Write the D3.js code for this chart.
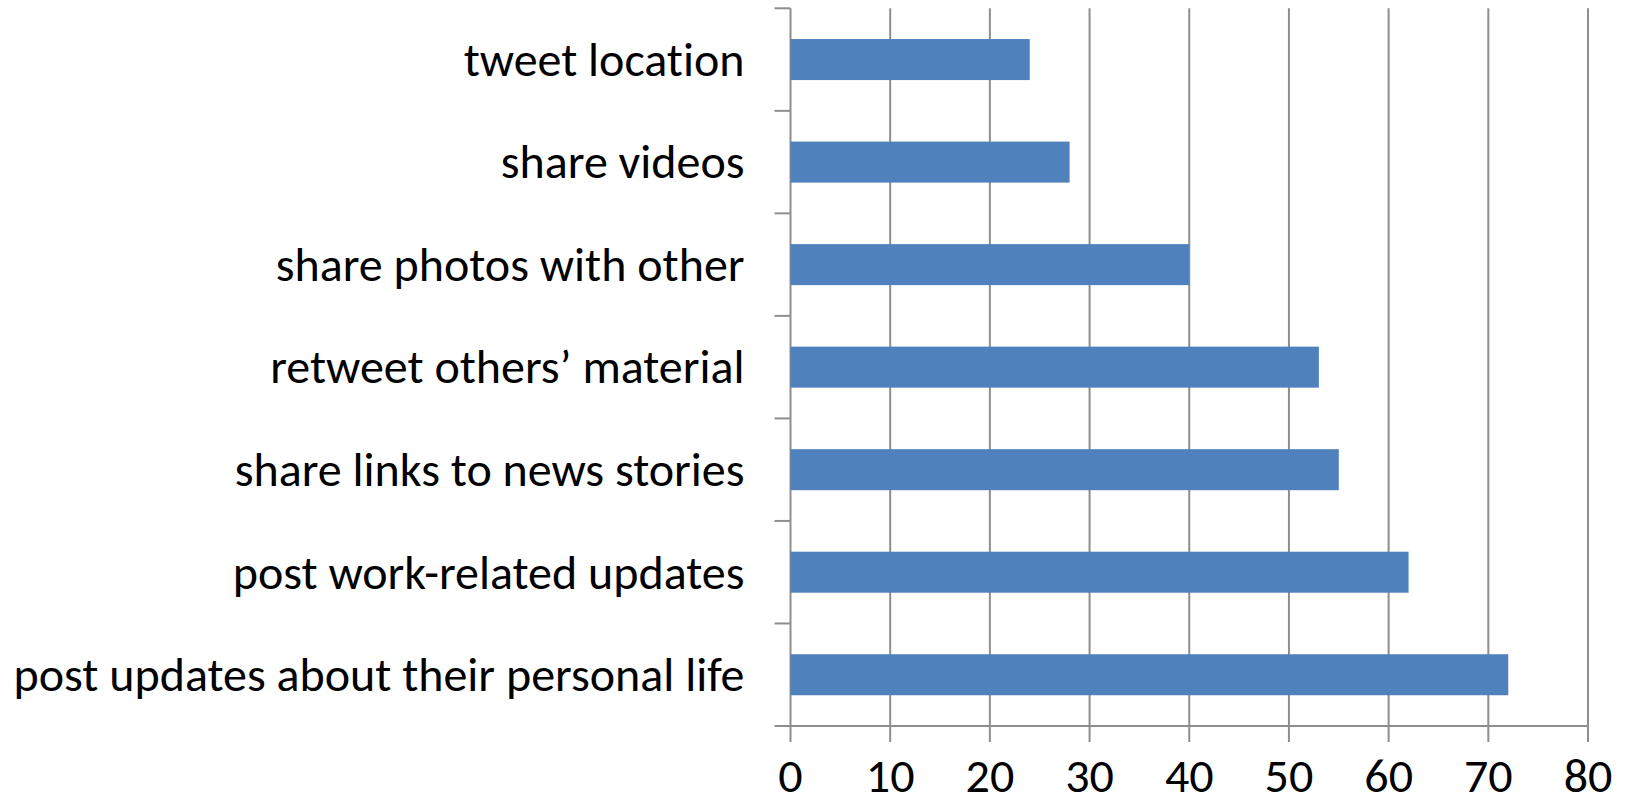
<!DOCTYPE html>
<html>
<head>
<meta charset="utf-8">
<script src="https://cdn.jsdelivr.net/npm/d3@7"></script>
<style>
  html, body { margin: 0; padding: 0; background: #fff; }
  svg { display: block; }
  text { font-family: Carlito, Lato, "Open Sans", sans-serif; fill: #000; font-variant-ligatures: none; font-feature-settings: "liga" 0, "dlig" 0; }
</style>
</head>
<body>
<svg id="chart" width="1626" height="807"></svg>
<script>
// Share of users doing each activity (%)
const categories = [
  "tweet location",
  "share videos",
  "share photos with other",
  "retweet others\u2019 material",
  "share links to news stories",
  "post work-related updates",
  "post updates about their personal life"
];
const values = [24, 28, 40, 53, 55, 62, 72];
const xTicks = [0, 10, 20, 30, 40, 50, 60, 70, 80];

const svg = d3.select("#chart");
const margin = { top: 8.3, right: 38, bottom: 81, left: 790.5 };
const W = 1626, H = 807;
const innerW = W - margin.left - margin.right;
const innerH = H - margin.top - margin.bottom;

const g = svg.append("g").attr("transform", `translate(${margin.left},${margin.top})`);

const x = d3.scaleLinear().domain([0, 80]).range([0, innerW]);
const y = d3.scaleBand().domain(categories).range([0, innerH])
  .paddingInner(0.6).paddingOuter(0.3);

const lineColor = "#8e8e8e";
const tickLen = 16;

// vertical gridlines, extended below the axis as tick marks
g.selectAll("line.grid").data(xTicks).join("line")
  .attr("class", "grid")
  .attr("x1", d => x(d)).attr("x2", d => x(d))
  .attr("y1", 0).attr("y2", innerH + tickLen)
  .attr("stroke", lineColor).attr("stroke-width", 2);

// category boundary ticks on the value-zero axis
const bounds = d3.range(categories.length + 1).map(i => i * y.step());
g.selectAll("line.ytick").data(bounds).join("line")
  .attr("class", "ytick")
  .attr("x1", -tickLen).attr("x2", 0)
  .attr("y1", d => d).attr("y2", d => d)
  .attr("stroke", lineColor).attr("stroke-width", 2);

// horizontal axis line
g.append("line")
  .attr("x1", 0).attr("x2", innerW)
  .attr("y1", innerH).attr("y2", innerH)
  .attr("stroke", lineColor).attr("stroke-width", 2);

// bars
g.selectAll("rect.bar").data(categories).join("rect")
  .attr("class", "bar")
  .attr("x", x(0))
  .attr("y", d => y(d))
  .attr("width", (d, i) => x(values[i]) - x(0))
  .attr("height", y.bandwidth())
  .attr("fill", "#4f81bd");

// category labels
g.selectAll("text.cat").data(categories).join("text")
  .attr("class", "cat")
  .attr("x", -46)
  .attr("y", d => y(d) + y.bandwidth() / 2)
  .attr("dy", "0.34em")
  .attr("text-anchor", "end")
  .style("font-size", "48px")
  .text(d => d);

// value tick labels
g.selectAll("text.xl").data(xTicks).join("text")
  .attr("class", "xl")
  .attr("x", d => x(d))
  .attr("y", innerH + 66)
  .attr("text-anchor", "middle")
  .style("font-size", "48px")
  .text(d => d);
</script>
</body>
</html>
